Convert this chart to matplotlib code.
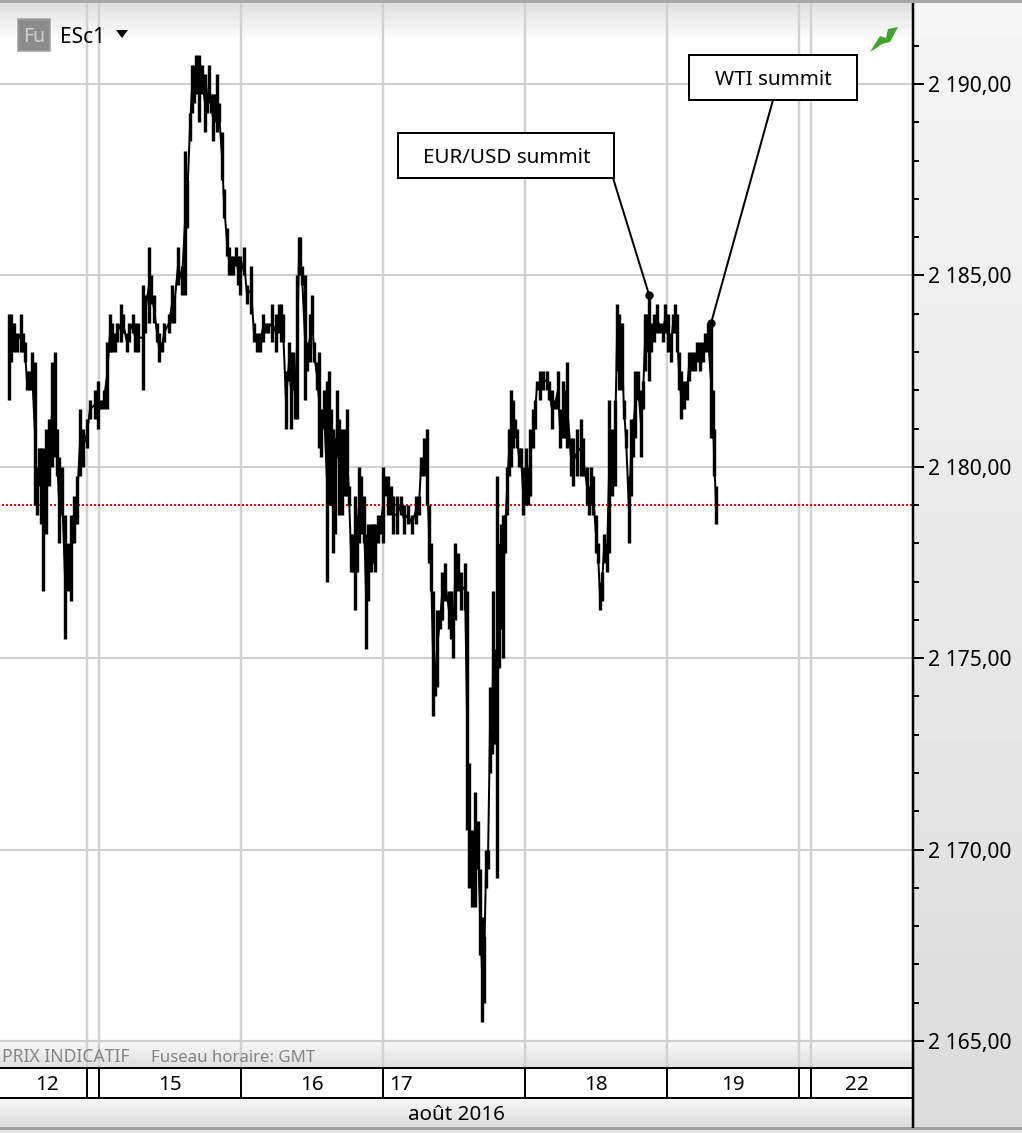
import matplotlib
matplotlib.use('Agg')
import matplotlib.pyplot as plt
import numpy as np
from matplotlib.patches import Rectangle, Polygon

plt.rcParams['font.family'] = ['Noto Sans', 'DejaVu Sans']

# barres ESc1 : position temporelle, plus haut, plus bas
bar_t = [
    9, 11, 14, 17, 21, 23, 25, 27, 29, 32,
    35, 37, 39, 41, 43, 46, 49, 52, 55, 57,
    59, 62, 65, 68, 71, 74, 77, 80, 83, 87,
    90, 95, 98, 101, 104, 107, 110, 112, 115, 117,
    121, 123, 127, 129, 133, 135, 138, 143, 145, 149,
    151, 154, 157, 159, 162, 164, 169, 172, 174, 178,
    182, 185, 187, 190, 192, 194, 196, 199, 202, 205,
    207, 209, 211, 213, 215, 217, 219, 222, 224, 227,
    229, 231, 233, 236, 238, 240, 244, 247, 251, 254,
    257, 260, 263, 266, 268, 272, 276, 279, 281, 283,
    286, 289, 291, 293, 295, 297, 299, 300, 302, 305,
    307, 310, 312, 314, 317, 319, 321, 324, 327, 329,
    331, 333, 335, 337, 339, 342, 345, 347, 349, 351,
    353, 355, 357, 359, 361, 364, 366, 368, 371, 373,
    375, 378, 381, 383, 385, 388, 391, 393, 397, 401,
    404, 408, 412, 416, 419, 421, 424, 427, 429, 431,
    433, 435, 437, 440, 442, 445, 449, 451, 453, 455,
    458, 461, 465, 467, 469, 472, 475, 478, 480, 482,
    484, 486, 488, 490, 492, 493, 495, 497, 499, 501,
    503, 505, 507, 509, 511, 513, 515, 517, 519, 521,
    523, 526, 528, 530, 533, 535, 537, 540, 543, 547,
    549, 552, 555, 558, 560, 563, 565, 567, 571, 573,
    577, 581, 583, 587, 589, 591, 593, 596, 598, 600,
    602, 604, 607, 609, 612, 615, 617, 619, 622, 624,
    626, 629, 631, 633, 635, 638, 641, 643, 645, 647,
    649, 651, 654, 657, 660, 663, 665, 668, 671, 673,
    675, 677, 679, 681, 684, 687, 689, 692, 695, 697,
    700, 703, 705, 708, 711, 713, 714, 716,
]
bar_high = [
    2184, 2184, 2183.75, 2183.5, 2184, 2183.5, 2183.25, 2182.5, 2182.5, 2183,
    2182.75, 2180, 2180.5, 2180.5, 2180.5, 2181, 2181.25, 2182.75, 2183, 2181,
    2180.25, 2180, 2178.75, 2178, 2178.75, 2179.25, 2179.75, 2181.5, 2181, 2181.25,
    2181.75, 2182, 2182.25, 2181.75, 2182, 2183.25, 2184, 2183.75, 2183.5, 2183.75,
    2184.25, 2184, 2183.5, 2183.75, 2184, 2183.75, 2183.75, 2184.75, 2184.5, 2185.75,
    2185, 2184.5, 2183.75, 2183.5, 2183.25, 2183.75, 2184, 2184.75, 2184.5, 2185.75,
    2185.25, 2188.25, 2187.5, 2189.25, 2190.5, 2190.5, 2190.75, 2190.75, 2190.5, 2190.25,
    2189.75, 2190.5, 2189.75, 2189.75, 2189.75, 2190.25, 2189.5, 2188.75, 2187.25, 2186.25,
    2185.75, 2185.5, 2185.5, 2185.75, 2185.5, 2185.5, 2185.75, 2184.75, 2185.25, 2183.75,
    2183.5, 2183.5, 2184, 2183.75, 2183.75, 2184.25, 2184, 2184.25, 2184.25, 2184,
    2182.5, 2183.25, 2183, 2183, 2182.5, 2185, 2186, 2186, 2185.25, 2185,
    2183.25, 2184, 2184.5, 2183.25, 2182.75, 2183, 2181.5, 2182, 2182.25, 2182.5,
    2181.5, 2181, 2180.75, 2182, 2181.25, 2181, 2181, 2181.5, 2179.5, 2178.25,
    2178.25, 2179.25, 2178.75, 2180, 2179.75, 2179.25, 2178.25, 2178.5, 2178.5, 2178.5,
    2178.5, 2178.75, 2178.75, 2180, 2179.75, 2179.75, 2179.5, 2179.25, 2179.25, 2179.25,
    2179, 2179, 2178.75, 2179.25, 2179.25, 2180.25, 2180.75, 2181, 2179, 2178,
    2176.75, 2174.75, 2176.25, 2176.25, 2177.25, 2177.5, 2176.75, 2176.75, 2176, 2178,
    2177.75, 2177.25, 2177.5, 2176.75, 2172.25, 2170.5, 2171.5, 2170.75, 2169.5, 2168.25,
    2167.75, 2170, 2170, 2174.25, 2173.25, 2176.75, 2175.25, 2179.75, 2178, 2178.5,
    2178.75, 2178.75, 2180, 2181, 2182, 2181.75, 2181.25, 2181, 2180.5, 2180.5,
    2180, 2180.5, 2180, 2181, 2181.5, 2181.75, 2182.25, 2182.5, 2182.5, 2182.5,
    2182.25, 2182, 2181.75, 2182.5, 2181.5, 2182.25, 2182, 2182.75, 2180.75, 2180.75,
    2181, 2181.25, 2180.75, 2180, 2179.5, 2180, 2179.75, 2178.75, 2178, 2177,
    2177.25, 2178.25, 2178, 2181.75, 2181, 2181.75, 2184.25, 2184, 2183.75, 2181.75,
    2181, 2179.75, 2181.25, 2181.25, 2182.5, 2182.5, 2182, 2182.25, 2184, 2184,
    2184.5, 2183.75, 2184, 2184.25, 2183.75, 2183.75, 2184.25, 2184, 2183.5, 2184,
    2184.25, 2184, 2183, 2182.5, 2182.25, 2182.25, 2183, 2183, 2183, 2183.25,
    2183.25, 2183.25, 2183.5, 2183.75, 2183.75, 2182, 2181, 2179.5,
]
bar_low = [
    2181.75, 2182.75, 2183, 2183, 2183, 2183, 2182.75, 2182, 2182, 2182,
    2179, 2178.75, 2179.5, 2178.5, 2176.75, 2178.25, 2179.5, 2180, 2180.25, 2179.75,
    2178, 2178.75, 2175.5, 2176.75, 2176.5, 2178, 2178.5, 2179.75, 2180, 2180.5,
    2181.25, 2181.25, 2181, 2181.5, 2181.5, 2181.5, 2183, 2183, 2183, 2183.25,
    2183.25, 2183.5, 2183, 2183.25, 2183.5, 2183, 2183, 2182, 2183.5, 2183.75,
    2184.25, 2183.75, 2183.25, 2182.75, 2183, 2183.25, 2183.5, 2183.75, 2183.75, 2184.75,
    2184.5, 2184.5, 2186.25, 2188.5, 2189.25, 2189.5, 2189.75, 2189, 2189.75, 2188.75,
    2189.25, 2189.5, 2189.25, 2188.5, 2189, 2188.75, 2189, 2187.5, 2186.5, 2185.5,
    2185, 2185, 2185, 2185.25, 2184.75, 2184.5, 2185, 2184.25, 2184, 2183.25,
    2183, 2183, 2183.25, 2183.5, 2183.5, 2183.25, 2183, 2183.5, 2183.25, 2183.25,
    2181, 2182.25, 2181, 2182, 2181.25, 2181.25, 2185, 2185, 2184.75, 2181.75,
    2182.5, 2182.75, 2183.5, 2182.75, 2182, 2180.5, 2180.25, 2181, 2177, 2179,
    2179, 2177.75, 2178.25, 2180.25, 2178.75, 2178.75, 2179.25, 2179.25, 2179, 2177.25,
    2177.25, 2176.25, 2177.25, 2178, 2178.25, 2178, 2175.25, 2176.5, 2177.25, 2177.5,
    2177.25, 2178, 2178.25, 2178, 2179.25, 2178.75, 2178.75, 2178.25, 2178.25, 2178.75,
    2178.25, 2178.5, 2178.25, 2178.5, 2178.75, 2179.75, 2179.75, 2179, 2177.5, 2176.75,
    2173.5, 2174, 2174.25, 2175.75, 2176, 2176.5, 2175.75, 2175.5, 2175, 2176,
    2176.75, 2176.25, 2176.25, 2170.5, 2169, 2168.5, 2168.5, 2169.5, 2167.25, 2165.5,
    2166, 2169, 2169.5, 2172, 2172.5, 2172.75, 2172.75, 2169.25, 2174.75, 2175.75,
    2175, 2177.75, 2178.75, 2179.75, 2180, 2180.5, 2180.75, 2180.5, 2180, 2180,
    2178.75, 2179, 2179, 2179.25, 2180.5, 2181, 2182, 2181.75, 2182, 2182,
    2181.75, 2181, 2181.5, 2181.5, 2180.5, 2180.75, 2180.75, 2180.5, 2179.75, 2179.5,
    2179.75, 2179.75, 2179.75, 2179, 2178.75, 2179, 2178.75, 2177.75, 2177.5, 2176.25,
    2176.5, 2177.5, 2177.25, 2177.75, 2179.25, 2179.5, 2182.5, 2182, 2182, 2181.25,
    2180.5, 2178, 2179.25, 2180.25, 2180.75, 2181.75, 2180.25, 2181.5, 2182.5, 2183,
    2182.25, 2183, 2183.25, 2183.5, 2183.5, 2183.25, 2183.5, 2183, 2182.75, 2183.5,
    2183.5, 2183, 2182, 2181.25, 2181.5, 2181.75, 2182.25, 2182.5, 2182.5, 2182.75,
    2182.5, 2182.75, 2183, 2183, 2180.75, 2180.75, 2179.75, 2178.5,
]
if not (len(bar_t) == len(bar_high) == len(bar_low)):
    raise ValueError((len(bar_t), len(bar_high), len(bar_low)))

last_price = 2179
major_prices = [2165, 2170, 2175, 2180, 2185, 2190]
minor_prices = list(range(2165, 2192))
session_breaks = [87, 99, 241, 383, 525, 667, 799, 811]
day_labels = ['12', '15', '16', '17', '18', '19', '22']
day_label_t = [47, 170, 312, 401, 596, 733, 857]
summit_names = ['EUR/USD summit', 'WTI summit']
summit_t = [649, 711]
summit_price = [2184.5, 2183.75]
price_label = lambda p: f'{int(p) // 1000} {int(p) % 1000},00'

W, H = 1022, 1133
fig = plt.figure(figsize=(W / 100, H / 100), dpi=100, facecolor='#e4e4e4')
px = 0.72  # 1 pixel en points


def gradient(a, x0, x1, y0, y1, c0, c1):
    g = np.linspace(c0, c1, 64).reshape(-1, 1)
    a.imshow(g, cmap='gray', vmin=0, vmax=1, extent=(x0, x1, y1, y0), aspect='auto', zorder=1)


# fond (coordonnées en pixels)
bg = fig.add_axes([0, 0, 1, 1], zorder=0)
bg.set_xlim(0, W)
bg.set_ylim(H, 0)
bg.axis('off')
bg.add_patch(Rectangle((0, 0), 913, 1068, color='white', zorder=0))
gradient(bg, 0, 913, 3, 42, 0.875, 1.0)
gradient(bg, 0, 913, 1042, 1068, 0.97, 0.87)
gradient(bg, 0, 913, 1098, 1127, 0.97, 0.86)
gradient(bg, 913, W, 3, 1127, 0.96, 0.86)
bg.set_xlim(0, W)
bg.set_ylim(H, 0)

# graphique
y_top = 2190 + (84 - 3) / 38.28
y_bot = 2165 - (1068 - 1041) / 38.28
ax = fig.add_axes([0, 1 - 1068 / H, 913 / W, (1068 - 3) / H], zorder=1)
ax.patch.set_visible(False)
ax.set_xlim(0, 913)
ax.set_ylim(y_bot, y_top)
for s in ['top', 'left', 'bottom']:
    ax.spines[s].set_visible(False)
ax.spines['right'].set_linewidth(2.5 * px)
ax.yaxis.tick_right()
ax.set_xticks([])
ax.set_yticks(major_prices)
ax.set_yticks(minor_prices, minor=True)
ax.set_yticklabels([price_label(p) for p in major_prices], fontsize=15.2, color='black')
ax.tick_params(axis='y', which='major', length=11 * px, width=2 * px, pad=3)
ax.tick_params(axis='y', which='minor', length=6 * px, width=2 * px)
for p in major_prices:
    ax.axhline(p, color='#d0d0d0', lw=2.2 * px, zorder=1)
for t in session_breaks:
    ax.axvline(t, color='#d0d0d0', lw=2.4 * px, zorder=1)
ax.axhline(last_price, xmin=2 / 913, color='red', lw=2 * px, ls=(0, (1, 1)), zorder=2)
ax.vlines(bar_t, bar_low, bar_high, color='black', lw=3.4 * px, zorder=3)
# liaison entre barres successives pour garder le tracé continu
bar_mid = (np.array(bar_high) + np.array(bar_low)) / 2
ax.plot(bar_t, bar_mid, color='black', lw=2 * px, zorder=3)
ax.plot(summit_t, summit_price, 'o', color='black', ms=7 * px, zorder=4)

# annotations et bandeaux
top = fig.add_axes([0, 0, 1, 1], zorder=2)
top.patch.set_visible(False)
top.set_xlim(0, W)
top.set_ylim(H, 0)
top.axis('off')
boxes = [(398, 133, 216, 45), (689, 55, 168, 45)]
anchors = [(613, 178), (773, 100)]
for name, b, anchor, t, p in zip(summit_names, boxes, anchors, summit_t, summit_price):
    top.add_patch(Rectangle((b[0], b[1]), b[2], b[3], fc='white', ec='black', lw=2 * px, zorder=5))
    top.text(b[0] + b[2] / 2 + 0.5, b[1] + b[3] / 2 + 2.5, name, ha='center', va='center', fontsize=14.8, zorder=6)
    top.annotate('', xy=(t, p), xycoords=ax.transData, xytext=anchor, textcoords='data',
                 arrowprops=dict(arrowstyle='-', lw=2 * px, color='black', shrinkA=0, shrinkB=0))

top.add_patch(Rectangle((0, 0), W, 3, color='#a8a8a8', lw=0))
top.add_patch(Rectangle((0, 1068), 913, 30, color='white', lw=0))
for y in [1068, 1098]:
    top.plot([0, 913], [y, y], color='black', lw=2 * px, solid_capstyle='butt')
for t in session_breaks:
    top.plot([t, t], [1068, 1098], color='black', lw=2 * px, solid_capstyle='butt')
top.plot([913, 913], [1068, 1128], color='black', lw=2.5 * px, solid_capstyle='butt')
top.add_patch(Rectangle((0, 1127), W, 3, color='#a0a0a0', lw=0))
for lab, t in zip(day_labels, day_label_t):
    top.text(t, 1085.5, lab, ha='center', va='center', fontsize=14.8)
top.text(456, 1114.5, 'août 2016', ha='center', va='center', fontsize=14.8)
top.text(2, 1057.5, 'PRIX INDICATIF', ha='left', va='center', fontsize=12.6, color='#858585')
top.text(151, 1057.5, 'Fuseau horaire: GMT', ha='left', va='center', fontsize=12.1, color='#858585')

# symbole et icônes
top.add_patch(Rectangle((18, 19), 32, 32, fc='#8c8c8c', ec='#a0a0a0', lw=1.5 * px))
top.text(34, 36.5, 'Fu', ha='center', va='center', fontsize=14, color='#cfcfcf', weight='bold')
top.text(60, 37.5, 'ESc1', ha='left', va='center', fontsize=15)
top.add_patch(Polygon([(116, 30), (128, 30), (122, 38)], color='black', lw=0))
top.add_patch(Polygon([(870, 52), (880, 36), (886, 38), (888, 29), (898, 27), (890, 42), (882, 44), (875, 49)],
                      color='#3fa52a', lw=0))
top.set_xlim(0, W)
top.set_ylim(H, 0)

fig.savefig('out.png', dpi=100)
